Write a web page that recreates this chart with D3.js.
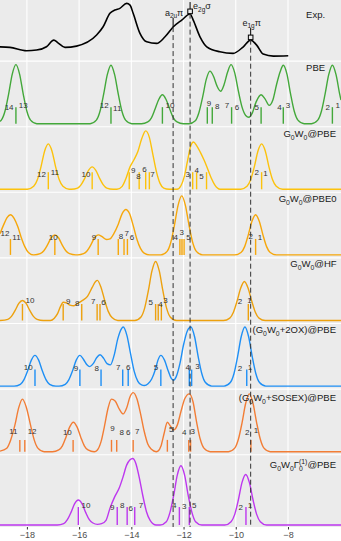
<!DOCTYPE html>
<html lang=en>
<meta charset=utf-8>
<title>Benzene photoemission spectra</title>
<style>
    body { margin: 0; background: #fff; }
    svg { display: block; font-family: "Liberation Sans", Arial, sans-serif; }
</style>
<svg id=chart width=341 height=541></svg>
<script src=https://cdn.jsdelivr.net/npm/d3@7/dist/d3.min.js></script>
<script>
// ---- data: energy (eV), relative intensity ----
var methods = ["Exp.", "PBE", "G_0W_0@PBE", "G_0W_0@PBE0", "G_0W_0@HF",
    "(G_0W_0+2OX)@PBE", "(G_0W_0+SOSEX)@PBE", "G_0W_0Γ_0^{(1)}@PBE"];

var xTicks = [-18, -16, -14, -12, -10, -8];

var expCurve = [[-19.03,0.19],[-18.65,0.181],[-18.01,0.124],[-17.63,0.136],[-17.25,0.192],[-16.97,0.305],
    [-16.81,0.259],[-16.54,0.181],[-16.10,0.203],[-15.33,0.39],[-15.08,0.531],[-14.82,0.758],[-14.63,0.814],
    [-14.44,0.842],[-14.18,0.927],[-14.05,0.898],[-13.93,0.758],[-13.67,0.419],[-13.41,0.276],[-13.03,0.249],
    [-12.71,0.361],[-12.39,0.531],[-12.07,0.644],[-11.75,0.746],[-11.63,0.644],[-11.37,0.361],[-11.11,0.192],
    [-10.61,0.107],[-10.10,0.08],[-9.71,0.192],[-9.43,0.305],[-9.20,0.22],[-8.95,0.068],[-8.56,0.034],[-7.99,0.039]];

// assigned experimental peaks
var assignNames = ["a_{2u}π", "e_{2g}σ", "e_{1g}π"];
var assignE = [-12.40, -11.75, -9.43];

var pbeCurve = [[-19.03,0.04],[-18.98,0.06],[-18.84,0.21],[-18.70,0.5],[-18.56,0.84],[-18.42,1.0],[-18.28,0.84],
    [-18.14,0.5],[-18.00,0.21],[-17.86,0.06],[-17.62,0],
    [-15.58,0],[-15.34,0.06],[-15.20,0.21],[-15.06,0.5],[-14.92,0.83],[-14.78,0.99],[-14.64,0.83],[-14.50,0.5],
    [-14.36,0.21],[-14.22,0.06],[-13.98,0],
    [-13.61,0],[-13.37,0.03],[-13.23,0.1],[-13.09,0.25],[-12.95,0.41],[-12.81,0.49],[-12.67,0.41],[-12.53,0.25],
    [-12.39,0.1],[-12.25,0.03],[-12.01,0],
    [-11.79,0],[-11.55,0.05],[-11.41,0.19],[-11.27,0.45],[-11.13,0.75],[-10.99,0.89],[-10.85,0.8],[-10.72,0.64],
    [-10.58,0.55],[-10.45,0.66],[-10.31,0.88],[-10.18,1.0],[-10.04,0.86],[-9.90,0.55],[-9.76,0.28],[-9.62,0.14],
    [-9.50,0.11],[-9.38,0.17],[-9.22,0.37],[-9.03,0.49],[-8.88,0.42],[-8.72,0.31],[-8.58,0.4],[-8.44,0.66],
    [-8.30,0.88],[-8.18,0.99],[-8.04,0.84],[-7.90,0.5],[-7.76,0.21],[-7.62,0.06],[-7.38,0],
    [-7.10,0],[-6.86,0.06],[-6.72,0.21],[-6.58,0.5],[-6.44,0.83],[-6.30,0.99],[-6.16,0.83],[-6.02,0.5],[-5.97,0.4]];
var pbeSticks = [-18.42, -14.78, -12.81, -11.09, -10.90, -10.16, -9.03, -8.18, -6.30];
var pbeLabels = [["14",-18.68,0.27],["13",-18.14,0.30],["12",-15.04,0.30],["11",-14.54,0.25],["10",-12.52,0.31],
    ["9",-11.03,0.34],["8",-10.71,0.29],["7",-10.34,0.30],["6",-9.95,0.27],["5",-9.20,0.27],["4",-8.33,0.27],
    ["3",-8.00,0.30],["2",-6.48,0.27],["1",-6.10,0.30]];

var gwPbeCurve = [[-19.03,0],[-17.98,0],[-17.74,0.05],[-17.60,0.16],[-17.46,0.38],[-17.32,0.65],[-17.18,0.77],
    [-17.04,0.65],[-16.90,0.38],[-16.76,0.16],[-16.62,0.05],[-16.38,0],
    [-16.30,0],[-16.06,0.02],[-15.92,0.08],[-15.78,0.19],[-15.64,0.32],[-15.50,0.38],[-15.36,0.32],[-15.22,0.19],
    [-15.08,0.08],[-14.94,0.02],[-14.70,0],
    [-14.55,0],[-14.35,0.05],[-14.21,0.18],[-14.05,0.38],[-13.90,0.5],[-13.75,0.64],[-13.60,0.86],[-13.45,0.99],
    [-13.31,0.88],[-13.18,0.6],[-13.04,0.3],[-12.90,0.1],[-12.76,0.02],[-12.55,0],
    [-12.25,0],[-12.10,0.06],[-11.97,0.22],[-11.84,0.5],[-11.72,0.74],[-11.62,0.8],[-11.50,0.74],[-11.36,0.63],
    [-11.22,0.5],[-11.08,0.35],[-10.94,0.19],[-10.80,0.07],[-10.60,0],
    [-9.81,0],[-9.57,0.05],[-9.43,0.16],[-9.29,0.38],[-9.15,0.65],[-9.01,0.77],[-8.87,0.65],[-8.73,0.38],
    [-8.59,0.16],[-8.45,0.05],[-8.21,0],[-5.97,0]];
var gwPbeSticks = [-17.18, -15.50, -14.08, -13.70, -13.45, -13.31, -11.65, -11.50, -11.12, -9.01];
var gwPbeLabels = [["12",-17.44,0.25],["11",-16.93,0.29],["10",-15.74,0.25],["9",-13.93,0.32],["8",-13.73,0.21],
    ["6",-13.50,0.33],["7",-13.19,0.25],["3",-11.84,0.25],["4",-11.50,0.31],["5",-11.31,0.21],["2",-9.20,0.28],["1",-8.86,0.26]];

var gwPbe0Curve = [[-19.03,0.36],[-18.90,0.5],[-18.76,0.63],[-18.63,0.68],[-18.49,0.62],[-18.35,0.48],[-18.22,0.3],
    [-18.08,0.14],[-17.94,0.04],[-17.75,0],
    [-17.73,0],[-17.49,0.02],[-17.35,0.07],[-17.21,0.17],[-17.07,0.29],[-16.93,0.34],[-16.79,0.29],[-16.65,0.17],
    [-16.51,0.07],[-16.37,0.02],[-16.13,0],
    [-16.05,0],[-15.83,0.02],[-15.69,0.07],[-15.55,0.17],[-15.41,0.29],[-15.27,0.34],[-15.12,0.31],[-14.95,0.26],
    [-14.82,0.27],[-14.67,0.36],[-14.50,0.52],[-14.35,0.7],[-14.21,0.77],[-14.07,0.7],[-13.93,0.5],[-13.79,0.27],
    [-13.65,0.11],[-13.51,0.03],[-13.30,0],
    [-12.87,0],[-12.63,0.06],[-12.49,0.21],[-12.35,0.5],[-12.21,0.84],[-12.07,1.0],[-11.93,0.84],[-11.79,0.5],
    [-11.65,0.21],[-11.51,0.06],[-11.27,0],
    [-10.04,0],[-9.80,0.04],[-9.66,0.14],[-9.52,0.34],[-9.38,0.57],[-9.24,0.68],[-9.10,0.57],[-8.96,0.34],
    [-8.82,0.14],[-8.68,0.04],[-8.44,0],[-5.97,0]];
var gwPbe0Sticks = [-18.63, -16.93, -15.27, -14.50, -14.28, -14.15, -12.14, -12.06, -11.98, -9.24];
var gwPbe0Labels = [["12",-18.84,0.36],["11",-18.40,0.29],["10",-16.99,0.29],["9",-15.43,0.29],["8",-14.40,0.32],
    ["7",-14.18,0.36],["6",-13.98,0.29],["4",-12.30,0.29],["3",-12.07,0.38],["5",-11.81,0.30],["2",-9.43,0.32],["1",-9.07,0.29]];

var gwHfCurve = [[-19.03,0],[-18.73,0.02],[-18.59,0.07],[-18.45,0.17],[-18.31,0.29],[-18.17,0.34],[-18.03,0.29],
    [-17.89,0.17],[-17.75,0.07],[-17.61,0.02],[-17.37,0],
    [-17.10,0],[-16.95,0.04],[-16.82,0.12],[-16.72,0.23],[-16.61,0.31],[-16.48,0.3],[-16.35,0.26],[-16.20,0.25],
    [-16.05,0.29],[-15.87,0.34],[-15.68,0.41],[-15.50,0.56],[-15.37,0.66],[-15.30,0.68],[-15.16,0.56],[-15.02,0.34],
    [-14.88,0.15],[-14.74,0.05],[-14.52,0],
    [-13.87,0],[-13.63,0.06],[-13.49,0.21],[-13.35,0.5],[-13.21,0.84],[-13.07,1.0],[-12.93,0.84],[-12.79,0.5],
    [-12.65,0.21],[-12.51,0.06],[-12.27,0],
    [-10.47,0],[-10.23,0.04],[-10.09,0.14],[-9.95,0.33],[-9.81,0.55],[-9.67,0.66],[-9.53,0.55],[-9.39,0.33],
    [-9.25,0.14],[-9.11,0.04],[-8.87,0],[-5.97,0]];
var gwHfSticks = [-18.17, -16.61, -15.90, -15.31, -15.20, -13.07, -12.97, -12.85, -9.52];
var gwHfLabels = [["10",-17.88,0.34],["9",-16.42,0.32],["8",-16.07,0.28],["7",-15.46,0.32],["6",-15.07,0.30],
    ["5",-13.26,0.31],["4",-12.88,0.27],["3",-12.69,0.34],["2",-9.84,0.32],["1",-9.48,0.34]];

var oxCurve = [[-19.03,0],[-18.49,0],[-18.25,0.03],[-18.11,0.11],[-17.97,0.26],[-17.83,0.44],[-17.69,0.52],
    [-17.55,0.44],[-17.41,0.26],[-17.27,0.11],[-17.13,0.03],[-16.89,0],
    [-16.77,0],[-16.53,0.03],[-16.39,0.11],[-16.25,0.26],[-16.11,0.44],[-15.97,0.52],[-15.83,0.45],[-15.70,0.36],
    [-15.59,0.33],[-15.46,0.38],[-15.33,0.48],[-15.20,0.53],[-15.06,0.47],[-14.93,0.38],[-14.80,0.36],[-14.66,0.52],
    [-14.52,0.8],[-14.38,0.97],[-14.31,1.0],[-14.17,0.86],[-14.03,0.55],[-13.89,0.25],[-13.75,0.08],[-13.61,0.02],
    [-13.50,0.01],[-13.36,0.04],[-13.22,0.12],[-13.08,0.28],[-12.98,0.44],[-12.87,0.52],[-12.73,0.44],[-12.59,0.26],
    [-12.47,0.13],[-12.39,0.1],[-12.28,0.16],[-12.14,0.38],[-12.00,0.7],[-11.86,0.93],[-11.72,1.0],[-11.58,0.84],
    [-11.44,0.5],[-11.30,0.21],[-11.16,0.06],[-10.92,0],
    [-10.45,0],[-10.21,0.06],[-10.07,0.21],[-9.93,0.5],[-9.79,0.84],[-9.65,1.0],[-9.51,0.84],[-9.37,0.5],
    [-9.23,0.21],[-9.09,0.06],[-8.85,0],[-5.97,0]];
var oxSticks = [-17.69, -15.97, -15.16, -14.33, -14.12, -12.87, -11.78, -11.69, -9.58];
var oxLabels = [["10",-17.95,0.31],["9",-16.12,0.30],["8",-15.33,0.30],["7",-14.50,0.31],["6",-14.12,0.31],
    ["5",-13.06,0.31],["4",-11.84,0.31],["3",-11.47,0.33],["2",-9.84,0.30],["1",-9.46,0.32]];

var sosexCurve = [[-19.03,0.01],[-18.77,0.06],[-18.62,0.2],[-18.46,0.45],[-18.31,0.75],[-18.17,0.89],[-18.02,0.75],
    [-17.86,0.45],[-17.72,0.2],[-17.58,0.06],[-17.34,0],
    [-17.02,0],[-16.78,0.03],[-16.64,0.1],[-16.50,0.25],[-16.36,0.42],[-16.22,0.5],[-16.08,0.42],[-15.94,0.25],
    [-15.80,0.1],[-15.66,0.03],[-15.42,0],
    [-15.30,0.03],[-15.16,0.17],[-15.03,0.43],[-14.89,0.74],[-14.76,0.89],[-14.62,0.86],[-14.46,0.72],[-14.31,0.64],
    [-14.18,0.74],[-14.05,0.93],[-13.93,1.0],[-13.79,0.9],[-13.65,0.65],[-13.51,0.35],[-13.37,0.13],[-13.23,0.04],
    [-13.05,0],[-12.98,0.01],[-12.86,0.1],[-12.75,0.3],[-12.62,0.5],[-12.50,0.43],[-12.37,0.37],[-12.24,0.45],
    [-12.10,0.68],[-11.95,0.9],[-11.78,0.98],[-11.64,0.85],[-11.50,0.5],[-11.36,0.21],[-11.22,0.06],[-10.98,0],
    [-10.28,0],[-10.04,0.06],[-9.90,0.21],[-9.76,0.49],[-9.62,0.82],[-9.48,0.98],[-9.34,0.82],[-9.20,0.49],
    [-9.06,0.21],[-8.92,0.06],[-8.68,0],[-5.97,0]];
var sosexSticks = [-18.27, -18.08, -16.23, -14.76, -14.56, -13.93, -12.62, -11.80, -11.73, -9.42];
var sosexLabels = [["11",-18.52,0.34],["12",-17.80,0.34],["10",-16.45,0.32],["9",-14.72,0.39],["8",-14.37,0.32],
    ["6",-14.12,0.33],["7",-13.77,0.34],["5",-12.47,0.37],["4",-11.97,0.32],["3",-11.65,0.34],["2",-9.56,0.33],["1",-9.23,0.36]];

var vertexCurve = [[-19.03,0],[-16.83,0],[-16.59,0.02],[-16.45,0.08],[-16.31,0.19],[-16.17,0.32],[-16.03,0.375],
    [-15.89,0.32],[-15.75,0.19],[-15.61,0.08],[-15.47,0.03],[-15.30,0.01],
    [-15.14,0.02],[-14.97,0.07],[-14.82,0.25],[-14.63,0.43],[-14.46,0.56],[-14.32,0.72],[-14.18,0.9],[-14.05,0.98],
    [-13.95,1.0],[-13.83,0.93],[-13.70,0.72],[-13.56,0.44],[-13.42,0.2],[-13.28,0.07],[-13.05,0],
    [-12.90,0],[-12.66,0.05],[-12.52,0.19],[-12.38,0.44],[-12.24,0.75],[-12.10,0.89],[-11.96,0.75],[-11.82,0.44],
    [-11.68,0.19],[-11.54,0.05],[-11.30,0],
    [-10.42,0],[-10.18,0.05],[-10.04,0.16],[-9.90,0.38],[-9.76,0.64],[-9.62,0.76],[-9.48,0.64],[-9.34,0.38],
    [-9.20,0.16],[-9.06,0.05],[-8.82,0],[-5.97,0]];
var vertexSticks = [-16.03, -14.54, -14.16, -13.87, -12.16, -11.78, -9.61];
var vertexLabels = [["10",-15.74,0.30],["9",-14.73,0.27],["8",-14.35,0.30],["6",-14.02,0.25],["7",-13.63,0.30],
    ["4",-12.36,0.30],["3",-11.97,0.28],["5",-11.59,0.30],["2",-9.81,0.27],["1",-9.46,0.29]];

// ---- layout ----
var width = 341, panelH = 527;
var colors = ["#000000", "#43a83a", "#fcc20c", "#f6a70b", "#eda10e", "#1e8ff5", "#f27d35", "#bd37ef"];
var stickH = [0, 0.28, 0.29, 0.27, 0.28, 0.28, 0.2, 0.27];
var titleE = [-6.58, -6.58, -6.16, -6.14, -6.14, -6.16, -6.16, -6.16];
var titleH = [0.68, 0.89, 0.885, 0.89, 0.9, 0.9, 0.86, 0.86];

var rows = [
    {curve: expCurve, sticks: [], labels: []},
    {curve: pbeCurve, sticks: pbeSticks, labels: pbeLabels},
    {curve: gwPbeCurve, sticks: gwPbeSticks, labels: gwPbeLabels},
    {curve: gwPbe0Curve, sticks: gwPbe0Sticks, labels: gwPbe0Labels},
    {curve: gwHfCurve, sticks: gwHfSticks, labels: gwHfLabels},
    {curve: oxCurve, sticks: oxSticks, labels: oxLabels},
    {curve: sosexCurve, sticks: sosexSticks, labels: sosexLabels},
    {curve: vertexCurve, sticks: vertexSticks, labels: vertexLabels}
];

var svg = d3.select("#chart");
var x = d3.scaleLinear().domain([-19.03, -5.97]).range([0, width]);
var rowTop = d3.scaleLinear().domain([0, 7]).range([-4.5, 454.7]);

rows.forEach(function (r, i) {
    r.top = rowTop(i);
    r.bottom = i < 7 ? rowTop(i + 1) : panelH;
    var unit = (r.bottom - r.top) * (i < 7 ? 0.9 : 0.92);
    var base = r.bottom - (i < 7 ? 3 : 2);
    r.y = d3.scaleLinear().domain([0, 1]).range([base, base - unit]);
    r.name = methods[i];
    r.color = colors[i];
});

// sub/superscript text: _x, _{xx}, ^{xx} (superscript stacked above last subscript)
function richText(text, s, size) {
    var parts = s.match(/_\{[^}]*\}|_.|\^\{[^}]*\}|[^_^]+/g);
    var shift = 0, subW = 0, small = size * 0.72;
    parts.forEach(function (p) {
        var t = text.append("tspan");
        if (p[0] === "_") {
            var v = p[1] === "{" ? p.slice(2, -1) : p.slice(1);
            t.text(v).attr("font-size", small).attr("dy", size * 0.3 - shift);
            shift = size * 0.3;
            subW = v.length * small * 0.556;
        } else if (p[0] === "^") {
            var w = p.slice(2, -1);
            t.text(w).attr("font-size", small).attr("dx", -subW).attr("dy", -size * 0.42 - shift);
            shift = -size * 0.42;
        } else {
            t.text(p).attr("dy", -shift);
            shift = 0;
        }
    });
}

// panel background + grid
svg.append("rect").attr("width", width).attr("height", panelH).attr("fill", "#ebebeb");

svg.append("g").selectAll("line").data(xTicks).enter().append("line")
    .attr("x1", function (d) { return x(d); }).attr("x2", function (d) { return x(d); })
    .attr("y1", 0).attr("y2", panelH)
    .attr("stroke", "#fff").attr("stroke-width", 1.1);

svg.append("g").selectAll("line").data(rows.slice(1)).enter().append("line")
    .attr("x1", 0).attr("x2", width)
    .attr("y1", function (d) { return d.top; }).attr("y2", function (d) { return d.top; })
    .attr("stroke", "#fff").attr("stroke-width", 1.1);

svg.append("clipPath").attr("id", "clip").append("rect")
    .attr("width", width).attr("height", panelH);

var plot = svg.append("g").attr("clip-path", "url(#clip)");

// spectra
rows.forEach(function (r, i) {
    var g = plot.append("g").attr("class", "row");
    var line = d3.line()
        .x(function (d) { return x(d[0]); })
        .y(function (d) { return r.y(d[1]); })
        .curve(d3.curveMonotoneX);

    g.selectAll(".stick").data(r.sticks).enter().append("line")
        .attr("class", "stick")
        .attr("x1", function (d) { return x(d); }).attr("x2", function (d) { return x(d); })
        .attr("y1", r.y(0)).attr("y2", r.y(stickH[i]))
        .attr("stroke", r.color).attr("stroke-width", 1.4);

    g.append("path").datum(r.curve)
        .attr("d", line)
        .attr("fill", "none")
        .attr("stroke", r.color)
        .attr("stroke-width", i === 0 ? 1.6 : 1.4);

    g.selectAll(".lab").data(r.labels).enter().append("text")
        .attr("class", "lab")
        .attr("x", function (d) { return x(d[1]); })
        .attr("y", function (d) { return r.y(d[2]); })
        .attr("text-anchor", "middle")
        .attr("dominant-baseline", "central")
        .attr("font-size", 8)
        .attr("fill", "#333")
        .text(function (d) { return d[0]; });

    var title = svg.append("text")
        .attr("x", x(titleE[i]))
        .attr("y", r.y(titleH[i]))
        .attr("text-anchor", "end")
        .attr("font-size", 9.5)
        .attr("fill", "#1a1a1a");
    richText(title, r.name, 9.5);
});

// experimental assignments: label, tick, marker, dashed guide
var exp = rows[0];
function expAt(e) {
    var c = expCurve, k = d3.bisector(function (d) { return d[0]; }).left(c, e);
    var a = c[k - 1], b = c[k];
    return a[1] + (b[1] - a[1]) * (e - a[0]) / (b[0] - a[0]);
}
var guide = svg.append("g");
assignE.forEach(function (e, k) {
    var cx = x(e), cy = exp.y(expAt(e));
    var marked = k > 0;
    var top = marked ? cy - 5 : cy;
    var tickTop = marked ? top - 7 : 18;
    if (marked) {
        guide.append("rect").attr("x", cx - 2.3).attr("y", cy - 5).attr("width", 4.6).attr("height", 4.6)
            .attr("fill", "none").attr("stroke", "#000").attr("stroke-width", 1);
    }
    guide.append("line").attr("x1", cx).attr("x2", cx).attr("y1", tickTop).attr("y2", top)
        .attr("stroke", "#000").attr("stroke-width", 1);
    guide.append("line").attr("x1", cx).attr("x2", cx)
        .attr("y1", marked ? cy - 0.4 : cy).attr("y2", panelH)
        .attr("stroke", "#333").attr("stroke-width", 1).attr("stroke-dasharray", "5,3");
    var t = guide.append("text")
        .attr("x", k === 1 ? cx + 3 : cx + 1)
        .attr("y", k === 1 ? 9 : tickTop - 2.5)
        .attr("text-anchor", k === 1 ? "start" : "middle")
        .attr("font-size", 9)
        .attr("fill", "#1a1a1a");
    richText(t, assignNames[k], 9);
});

// x axis
var axis = svg.append("g")
    .attr("transform", "translate(0," + panelH + ")")
    .call(d3.axisBottom(x).tickValues(xTicks).tickSize(2.5).tickPadding(2).tickFormat(d3.format("d")));
axis.select(".domain").remove();
axis.selectAll(".tick line").attr("stroke", "#333");
axis.selectAll(".tick text").attr("font-size", 9).attr("fill", "#4d4d4d")
    .attr("font-family", "'Liberation Sans', Arial, sans-serif");
</script>
